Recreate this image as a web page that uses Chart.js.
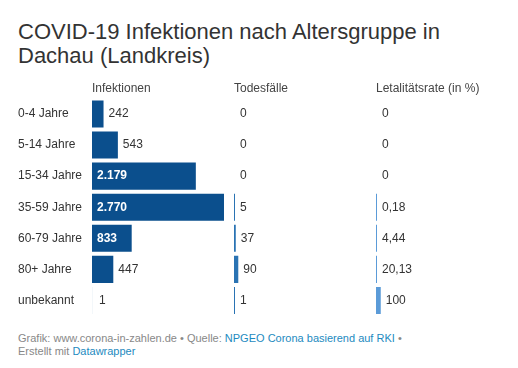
<!DOCTYPE html>
<html lang="de">
<head>
<meta charset="utf-8">
<script src="https://cdn.jsdelivr.net/npm/chart.js@4"></script>
<style>
	body {
		margin: 0;
		background: #fff;
		font-family: "Liberation Sans", Arial, sans-serif;
	}
	#title {
		position: absolute;
		left: 18px;
		top: 20px;
		font-size: 22px;
		line-height: 24px;
		color: #333;
	}
	#chart {
		position: absolute;
		left: 0;
		top: 78px;
	}
	#footer {
		position: absolute;
		left: 18px;
		top: 332px;
		font-size: 11px;
		line-height: 13px;
		color: #888;
	}
	#footer span {
		color: #1d8ac0;
	}
</style>
</head>
<body>
<div id="title">COVID-19 Infektionen nach Altersgruppe in<br>Dachau (Landkreis)</div>
<canvas id="chart" width="518" height="238"></canvas>
<div id="footer">Grafik: www.corona-in-zahlen.de • Quelle: <span>NPGEO Corona basierend auf RKI</span> •<br>Erstellt mit <span>Datawrapper</span></div>

<script>
	// --- Data ---
	const ageGroups = [
		"0-4 Jahre",
		"5-14 Jahre",
		"15-34 Jahre",
		"35-59 Jahre",
		"60-79 Jahre",
		"80+ Jahre",
		"unbekannt",
	];
	const columnTitles = ["Infektionen", "Todesfälle", "Letalitätsrate (in %)"];
	const infections = [242, 543, 2179, 2770, 833, 447, 1];
	const deaths = [0, 0, 0, 5, 37, 90, 1];
	const fatalityRate = [0, 0, 0, 0.18, 4.44, 20.13, 100];

	const SCALE_MAX = 2980; // shared scale for all three columns
	const COLORS = ["#0b4f8d", "#2a73b3", "#5b9bd8"];

	// German number format: 2.179 / 0,18
	function fmt(v) {
		const parts = String(v).split(".");
		const int = parts[0].replace(/\B(?=(\d{3})+(?!\d))/g, ".");
		return parts.length > 1 ? int + "," + parts[1] : int;
	}

	// --- Value labels next to / inside the bars ---
	const valueLabels = {
		id: "valueLabels",
		afterDatasetsDraw(chart) {
			const ctx = chart.ctx;
			const sets = [infections, deaths, fatalityRate];
			ctx.save();
			ctx.textBaseline = "middle";
			ctx.textAlign = "left";
			sets.forEach((values, di) => {
				const meta = chart.getDatasetMeta(di);
				const xScale = chart.scales["x" + (di + 1)];
				const yScale = chart.scales.y;
				const start = xScale.getPixelForValue(0);
				values.forEach((v, i) => {
					const y = yScale.getPixelForValue(i);
					const el = meta.data[i];
					const end = v && el && !isNaN(el.x) ? el.x : start;
					if (di === 0 && v >= 800) {
						ctx.font = "bold 12px 'Liberation Sans', Arial, sans-serif";
						ctx.fillStyle = "#fff";
						ctx.fillText(fmt(v), start + 5, y);
					} else {
						ctx.font = "12px 'Liberation Sans', Arial, sans-serif";
						ctx.fillStyle = "#333";
						const x = di === 0 ? Math.max(end, start + 2) + 5 : Math.max(end, start + 1) + 5;
						ctx.fillText(fmt(v), x, y);
					}
				});
			});
			ctx.restore();
		},
	};

	function colAxis(title) {
		return {
			type: "linear",
			position: "top",
			stack: "cols",
			stackWeight: 1,
			min: 0,
			max: SCALE_MAX,
			grid: { display: false, drawTicks: false },
			border: { display: false },
			ticks: { display: false },
			title: {
				display: true,
				text: title,
				align: "start",
				color: "#444",
				font: { size: 12, family: "'Liberation Sans', Arial, sans-serif" },
				padding: { top: 3, bottom: 3 },
			},
		};
	}

	function barSet(label, values, axis, color, minLen) {
		return {
			label: label,
			data: values.map((v) => (v === 0 ? null : v)),
			xAxisID: axis,
			backgroundColor: color,
			grouped: false,
			categoryPercentage: 1,
			barPercentage: 0.87,
			minBarLength: minLen,
		};
	}

	new Chart(document.getElementById("chart"), {
		type: "bar",
		data: {
			labels: ageGroups,
			datasets: [
				barSet(columnTitles[0], infections, "x1", COLORS[0], 0),
				barSet(columnTitles[1], deaths, "x2", COLORS[1], 1),
				barSet(columnTitles[2], fatalityRate, "x3", COLORS[2], 1),
			],
		},
		options: {
			indexAxis: "y",
			responsive: false,
			animation: false,
			layout: { padding: { left: 18, right: 0, top: 0, bottom: 0 } },
			scales: {
				// top axes are laid out in reverse order, so the last one listed goes left
				x3: colAxis(columnTitles[2]),
				x2: colAxis(columnTitles[1]),
				x1: colAxis(columnTitles[0]),
				y: {
					type: "category",
					position: "left",
					grid: { display: false, drawTicks: false },
					border: { display: false },
					ticks: {
						crossAlign: "far",
						color: "#333",
						padding: 0,
						font: { size: 12, family: "'Liberation Sans', Arial, sans-serif" },
					},
					afterFit(scale) {
						scale.width = 74;
						scale.paddingTop = 0;
						scale.paddingBottom = 0;
					},
				},
			},
			plugins: {
				legend: { display: false },
				tooltip: { enabled: false },
			},
		},
		plugins: [valueLabels],
	});
</script>
</body>
</html>
